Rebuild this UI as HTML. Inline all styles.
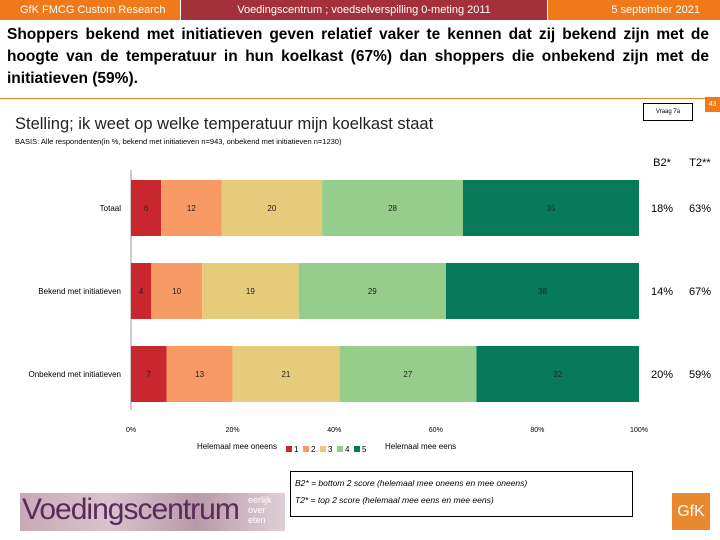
<!DOCTYPE html>
<html><head><meta charset="utf-8"><style>
body{margin:0;width:720px;height:540px;overflow:hidden;background:#fff;font-family:"Liberation Sans",sans-serif;position:relative}
.a{position:absolute;white-space:nowrap}
</style></head><body>
<div class="a" style="left:0;top:0;width:180px;height:20px;background:#f07a1a;color:#fff;font-size:11px;line-height:20px;text-indent:20px">GfK FMCG Custom Research</div>
<div class="a" style="left:181px;top:0;width:366px;height:20px;background:#a3303a;color:#fff;font-size:11px;line-height:20px;text-align:center">Voedingscentrum ; voedselverspilling 0-meting 2011</div>
<div class="a" style="left:548px;top:0;width:172px;height:20px;background:#f07a1a;color:#fff;font-size:11px;line-height:20px;text-align:right;box-sizing:border-box;padding-right:20px">5 september 2021</div>
<div class="a" style="left:7px;top:24px;width:702px;white-space:normal;font-weight:bold;font-size:15.5px;line-height:22px;text-align:justify;text-align-last:left">Shoppers bekend met initiatieven geven relatief vaker te kennen dat zij bekend zijn met de hoogte van de temperatuur in hun koelkast (67%) dan shoppers die onbekend zijn met de initiatieven (59%).</div>
<div class="a" style="left:0;top:98px;width:720px;height:1px;background:#e8892f"></div>
<div class="a" style="left:643px;top:103px;width:48px;height:16px;border:1px solid #000;font-size:6px;line-height:16px;text-align:center">Vraag 7a</div>
<div class="a" style="left:705px;top:97px;width:15px;height:15px;background:#f07a1a;color:#fff;font-size:7px;line-height:15px;text-align:center">43</div>
<div class="a" style="left:15px;top:115px;font-size:16.5px;color:#222">Stelling; ik weet op welke temperatuur mijn koelkast staat</div>
<div class="a" style="left:15px;top:137px;font-size:7.5px">BASIS: Alle respondenten(in %, bekend met initiatieven n=943, onbekend met initiatieven n=1230)</div>
<svg id="chart" class="a" style="left:0;top:0" width="720" height="540"></svg>
<div class="a" style="left:290px;top:471px;width:343px;height:46px;border:1px solid #000;font-size:8.5px;font-style:italic;line-height:17px;padding-left:4px;box-sizing:border-box;padding-top:3px">B2* = bottom 2 score (helemaal mee oneens en mee oneens)<br>T2* = top 2 score (helemaal mee eens en mee eens)</div>
<div class="a" style="left:20px;top:493px;width:265px;height:38px;background:linear-gradient(90deg,#c9a9b6,#d9c3cc,#b89aa8,#e0cfd6);overflow:hidden">
<span class="a" style="left:2px;top:0;font-size:30px;color:#5a2a5a;letter-spacing:-1px">Voedingscentrum</span>
<span class="a" style="left:228px;top:2px;font-size:9px;color:#fff;line-height:10px;white-space:normal">eerlijk<br>over<br>eten</span></div>
<div class="a" style="left:672px;top:493px;width:38px;height:37px;background:#e8892f;color:#fff;font-size:16px;line-height:37px;text-align:center">GfK</div>
<script>
const categories=["Totaal","Bekend met initiatieven","Onbekend met initiatieven"];
const s1=[6,4,7];
const s2=[12,10,13];
const s3=[20,19,21];
const s4=[28,29,27];
const s5=[35,38,32];
const b2=["18%","14%","20%"];
const t2=["63%","67%","59%"];
const ticks=[0,20,40,60,80,100];
const series=[s1,s2,s3,s4,s5];
const colors=["#c8272d","#f79a63","#e6cc7a","#97cd8a","#077a5a"];
const NS="http://www.w3.org/2000/svg";
const svg=document.getElementById('chart');
const x=v=>131+v*(639-131)/100;
const yTop=i=>180+i*83;
const bh=56;
function el(t,a,txt){const e=document.createElementNS(NS,t);for(const k in a)e.setAttribute(k,a[k]);if(txt!==undefined)e.textContent=txt;svg.appendChild(e);return e;}
let ax=el('line',{x1:x(0),x2:x(0),y1:170,y2:410,stroke:'#999'});


categories.forEach((c,i)=>{
 let cum=0;
 const tot=series.reduce((a,s)=>a+s[i],0);
 series.forEach((s,k)=>{
  const v=s[i]/tot*100;
  const r=el('rect',{x:x(cum),y:yTop(i),width:x(cum+v)-x(cum),height:bh,fill:colors[k]});
  
  
  const t=el('text',{x:x(cum+v/2),y:yTop(i)+bh/2+3,'font-size':8,'text-anchor':'middle',fill:'#222'},s[i]);
  
  
  cum+=v;
 });
 const l=el('text',{x:121,y:yTop(i)+bh/2+3,'font-size':8,'text-anchor':'end'},c);
 
 
 const a=el('text',{x:662,y:yTop(i)+bh/2+4,'font-size':11,'text-anchor':'middle'},b2[i]);
 
 
 const b=el('text',{x:700,y:yTop(i)+bh/2+4,'font-size':11,'text-anchor':'middle'},t2[i]);
 
 
});
ticks.forEach(t=>{
 const e=el('text',{x:x(t),y:432,'font-size':7,'text-anchor':'middle'},t+'%');
 
 
});
let h1=el('text',{x:662,y:166,'font-size':11,'text-anchor':'middle'},'B2*');


let h2=el('text',{x:700,y:166,'font-size':11,'text-anchor':'middle'},'T2**');


let lg1=el('text',{x:277,y:449,'font-size':8,'text-anchor':'end'},'Helemaal mee oneens');


colors.forEach((c,k)=>{
 const r=el('rect',{x:286+k*17,y:446,width:6,height:6,fill:c});
 
 
 const t=el('text',{x:294+k*17,y:452,'font-size':8},k+1);
 
 
});
let lg2=el('text',{x:385,y:449,'font-size':8},'Helemaal mee eens');


</script>
</body></html>
